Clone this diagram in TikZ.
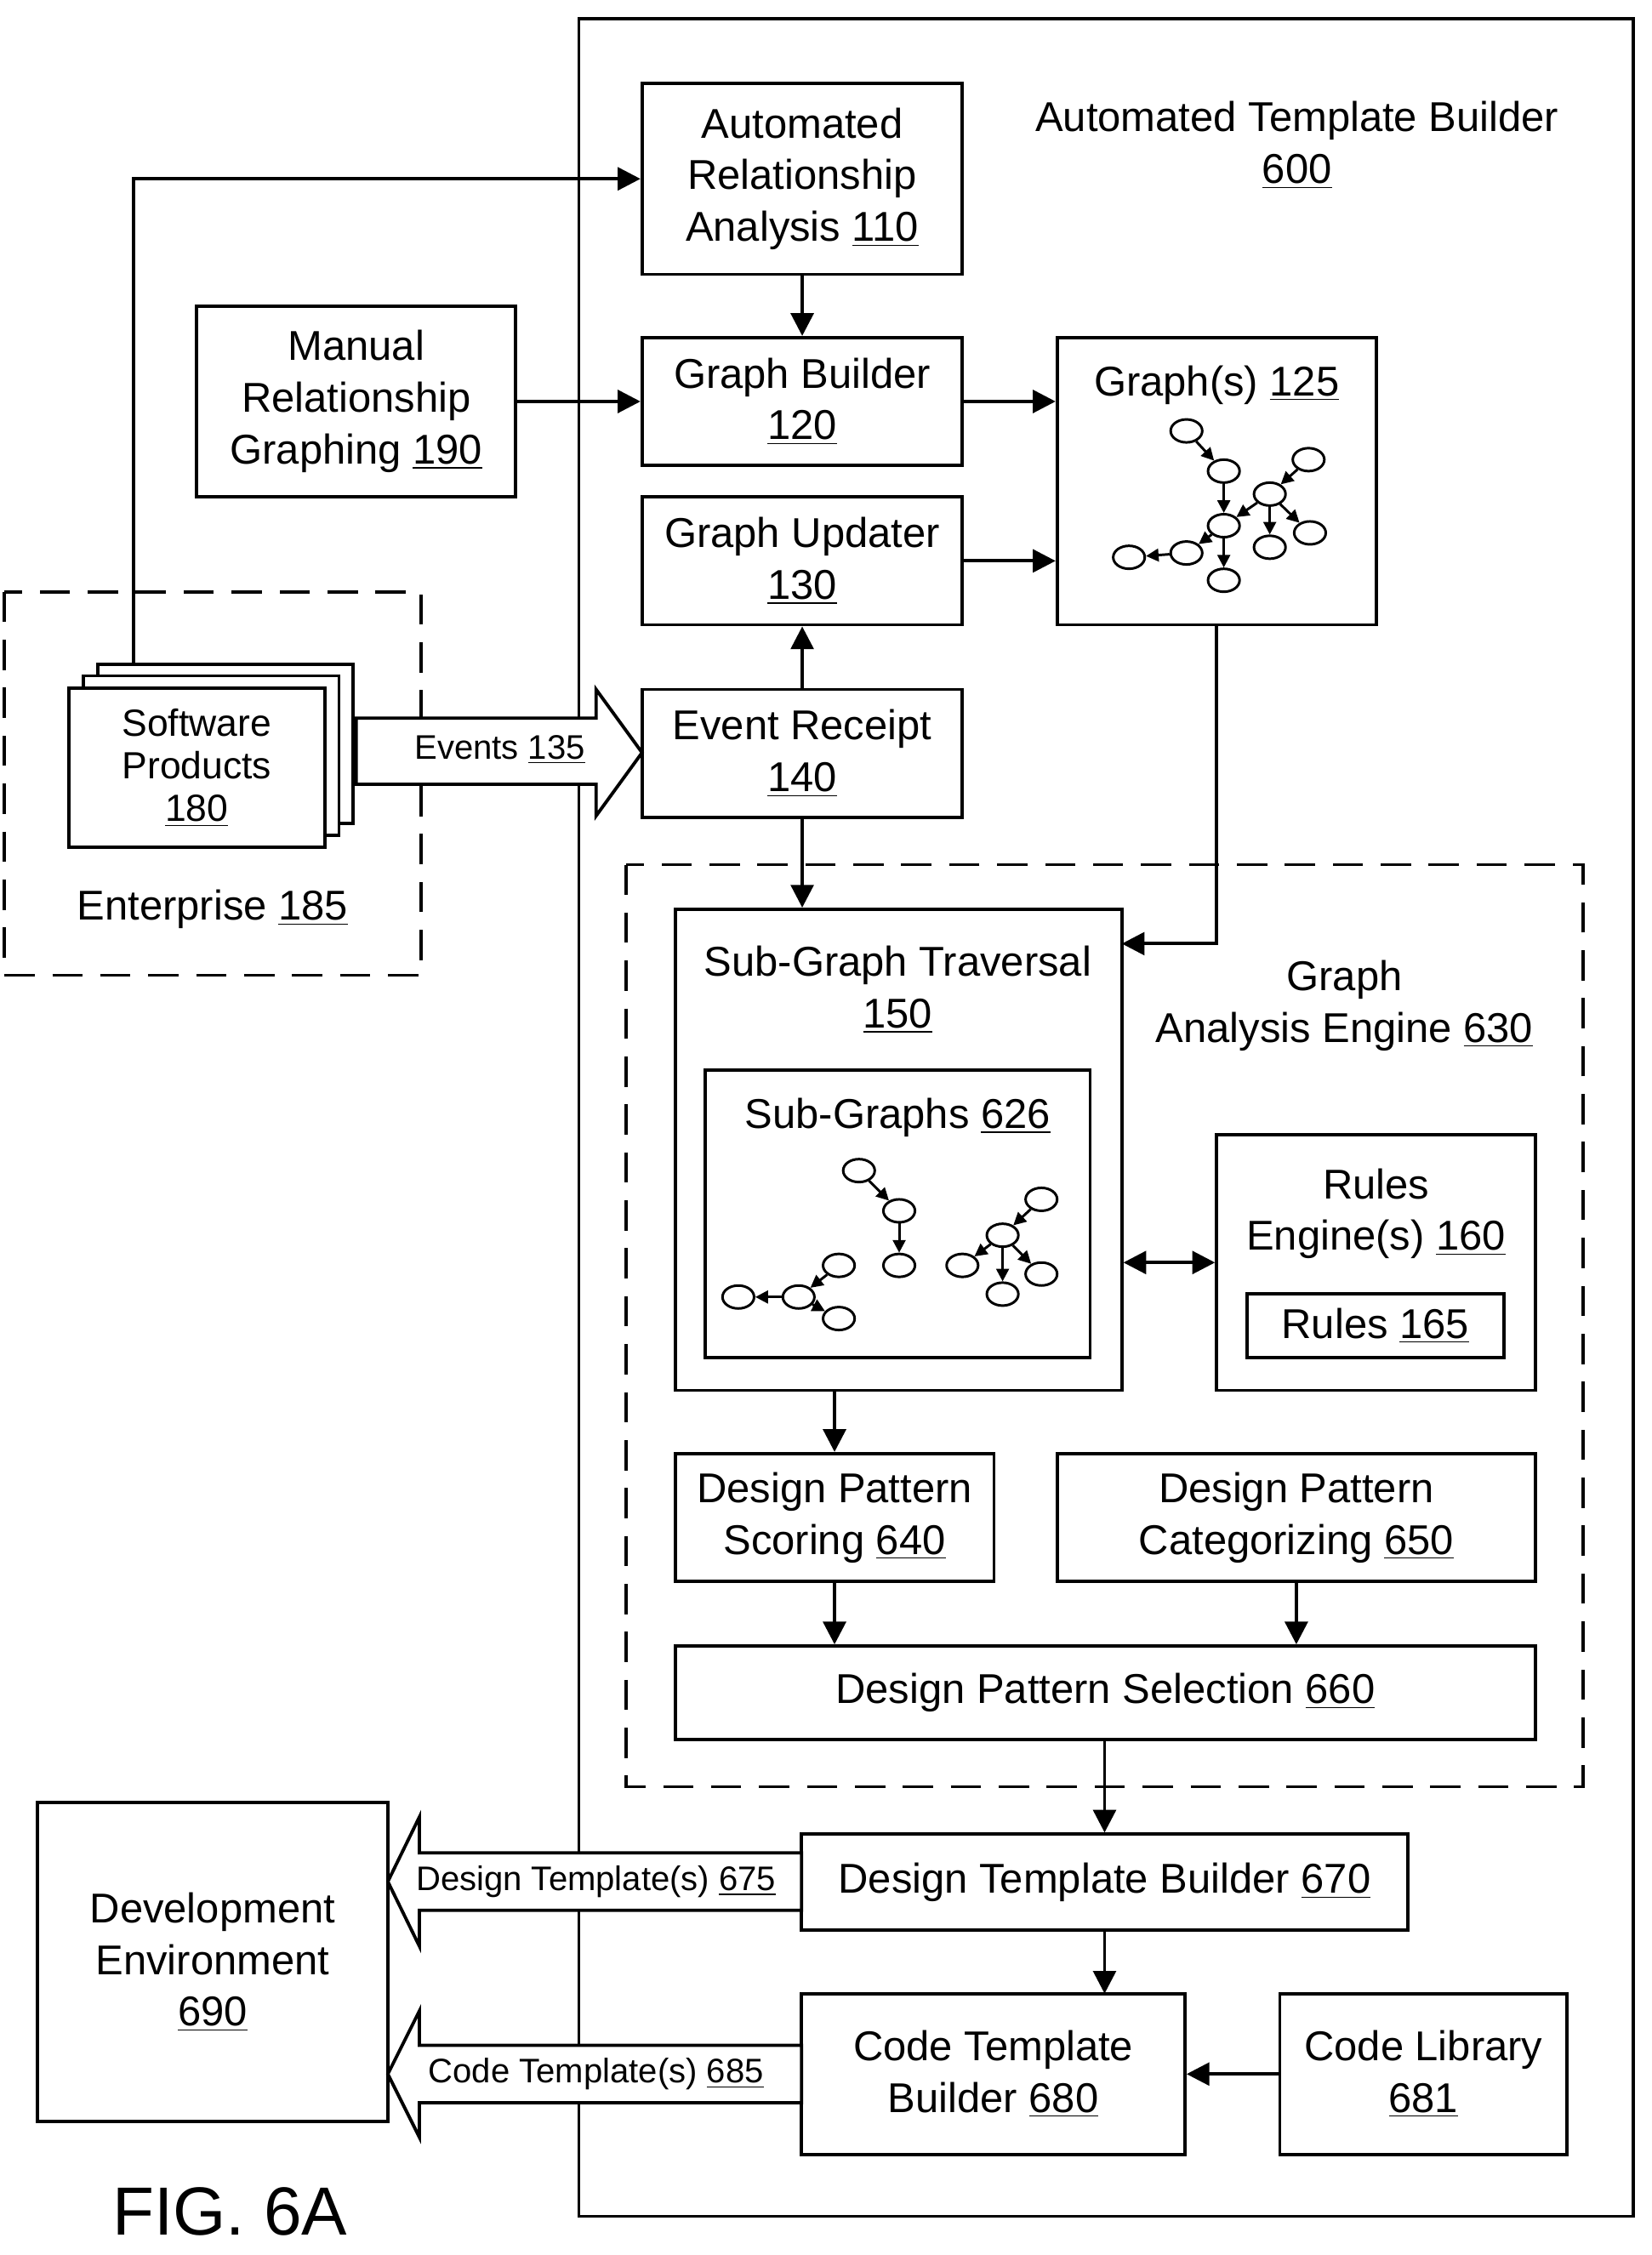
\documentclass[tikz,border=0pt]{standalone}
\usepackage{fontspec}
\setmainfont{Liberation Sans}
\usetikzlibrary{arrows.meta,shapes.geometric,positioning}
\begin{document}
\begin{tikzpicture}[x=0.02cm,y=-0.02cm,>={Triangle[length=9pt,width=9pt]},
  line width=1.3pt,font=\fontsize{16.5}{20.5}\selectfont]
\tikzset{
    bx/.style={%
        draw, fill=white,
        rectangle,
        inner sep=0pt,
        align=center
        },
    gn/.style={%
        draw, ellipse, line width=1pt,
        minimum width=0.44cm,
        minimum height=0.32cm,
        inner sep=0pt
        },
    ga/.style={->, line width=1pt, >={Triangle[length=5pt,width=5pt]}},
    hollow/.style={draw, fill=white, line width=1.3pt},
    dsh/.style={draw, dashed, dash pattern=on 12pt off 7pt},
}
\useasboundingbox (0,0) rectangle (1150,1570);
%%%FRAMES
\draw (403,13) rectangle (1137,1543);
\node[align=center] (atb) at (903,101) {Automated Template Builder\\\underline{600}};
\draw[dsh] (3,412) rectangle (293,679);
\node (ent) at (148,633) {Enterprise \underline{185}};
\draw[dsh] (436,602) rectangle (1102,1244);
\node[align=center] (gae) at (936,700) {Graph\\Analysis Engine \underline{630}};
%%%SOFTWARE PRODUCTS
\node[bx, minimum width=3.56cm, minimum height=2.22cm] (sp3) at (157,518) {};
\node[bx, minimum width=3.56cm, minimum height=2.22cm] (sp2) at (147,526) {};
\node[bx, minimum width=3.56cm, minimum height=2.22cm, font=\fontsize{15}{17}\selectfont] (sp) at (137,534.5) {Software\\Products\\\underline{180}};
%%%BOXES
\node[bx, minimum width=4.46cm, minimum height=2.66cm] (ara) at (558.5,124.5) {Automated\\Relationship\\Analysis \underline{110}};
\node[bx, minimum width=4.44cm, minimum height=2.66cm] (mrg) at (248,279.5) {Manual\\Relationship\\Graphing \underline{190}};
\node[bx, minimum width=4.46cm, minimum height=1.78cm] (gb) at (558.5,279.5) {Graph Builder\\\underline{120}};
\node[bx, minimum width=4.44cm, minimum height=4.0cm] (gr) at (847,335) {};
\node (grl) at (847,268) {Graph(s) \underline{125}};
\node[bx, minimum width=4.46cm, minimum height=1.78cm] (gu) at (558.5,390.5) {Graph Updater\\\underline{130}};
\node[bx, minimum width=4.46cm, minimum height=1.78cm] (er) at (558.5,524.5) {Event Receipt\\\underline{140}};
\node[bx, minimum width=6.22cm, minimum height=6.7cm] (sgt) at (625.5,800.5) {};
\node[align=center] (sgtl) at (625,689) {Sub-Graph Traversal\\\underline{150}};
\node[bx, minimum width=5.36cm, minimum height=4.0cm] (sg) at (625,845) {};
\node (sgl) at (625,778) {Sub-Graphs \underline{626}};
\node[bx, minimum width=4.44cm, minimum height=3.56cm] (re) at (958,879) {};
\node[align=center] (rel) at (958,845) {Rules\\Engine(s) \underline{160}};
\node[bx, minimum width=3.58cm, minimum height=0.88cm] (ru) at (957.5,923) {Rules \underline{165}};
\node[bx, minimum width=4.44cm, minimum height=1.78cm] (dps) at (581,1056.5) {Design Pattern\\Scoring \underline{640}};
\node[bx, minimum width=6.66cm, minimum height=1.78cm] (dpc) at (902.5,1056.5) {Design Pattern\\Categorizing \underline{650}};
\node[bx, minimum width=11.98cm, minimum height=1.3cm] (dpsel) at (769.5,1178.5) {Design Pattern Selection \underline{660}};
\node[bx, minimum width=8.44cm, minimum height=1.34cm] (dtb) at (769,1310.5) {Design Template Builder \underline{670}};
\node[bx, minimum width=5.34cm, minimum height=2.24cm] (ctb) at (691.5,1444) {Code Template\\Builder \underline{680}};
\node[bx, minimum width=4.0cm, minimum height=2.24cm] (cl) at (991,1444) {Code Library\\\underline{681}};
\node[bx, minimum width=4.88cm, minimum height=4.44cm] (de) at (148,1366) {Development\\Environment\\\underline{690}};
%%%CONNECTORS
\draw[->] (sp3.north -| 93,0) |- (ara.west);
\draw[->] (mrg) -- (gb);
\draw[->] (ara) -- (gb);
\draw[->] (gb) -- (gb -| gr.west);
\draw[->] (gu) -- (gu -| gr.west);
\draw[->] (er) -- (gu);
\draw[->] (er) -- (er |- sgt.north);
\draw[->] (gr.south) |- (781,657);
\draw[<->] (sgt.east |- re) -- (re);
\draw[->] (sgt.south -| dps) -- (dps);
\draw[->] (dps) -- (dps |- dpsel.north);
\draw[->] (dpc) -- (dpc |- dpsel.north);
\draw[->] (dpsel.south -| dtb) -- (dtb);
\draw[->] (dtb.south -| 769,0) -- (769,1388);
\draw[->] (cl) -- (ctb);
%%%HOLLOW ARROWS
\draw[hollow] (248,500) -- (415,500) -- (415,480) -- (447,524) -- (415,568) -- (415,546) -- (248,546) -- cycle;
\node[font=\fontsize{13.5}{16}\selectfont] (ev) at (348,522) {Events \underline{135}};
\draw[hollow] (558,1290) -- (292,1290) -- (292,1265) -- (270,1310) -- (292,1355) -- (292,1330) -- (558,1330) -- cycle;
\node[font=\fontsize{13.5}{16}\selectfont] (dt) at (415,1310) {Design Template(s) \underline{675}};
\draw[hollow] (558,1424) -- (292,1424) -- (292,1400) -- (270,1444) -- (292,1488) -- (292,1464) -- (558,1464) -- cycle;
\node[font=\fontsize{13.5}{16}\selectfont] (ct) at (415,1444) {Code Template(s) \underline{685}};
%%%SMALL GRAPHS
\foreach \n/\x/\y in {a/826/300,b/852/328,c/911/320,d/884/344,e/852/366,f/826/385,g/786/388,h/884/381,i/912/371,j/852/404}
  \node[gn] (g\n) at (\x,\y) {};
\foreach \s/\t in {a/b,b/e,c/d,d/e,d/h,d/i,e/f,f/g,e/j}
  \draw[ga] (g\s) -- (g\t);
\foreach \n/\x/\y in {a/598/815,b/626/843,c/626/881,d/584/881,e/556/903,f/514/903,g/584/918,h/725/835,i/698/860,k/670/881,l/698/901,m/725/887}
  \node[gn] (s\n) at (\x,\y) {};
\foreach \s/\t in {a/b,b/c,d/e,e/f,e/g,h/i,i/k,i/l,i/m}
  \draw[ga] (s\s) -- (s\t);
\node[font=\fontsize{27}{30}\selectfont] (fig) at (160,1540) {FIG. 6A};
\end{tikzpicture}
\end{document}
